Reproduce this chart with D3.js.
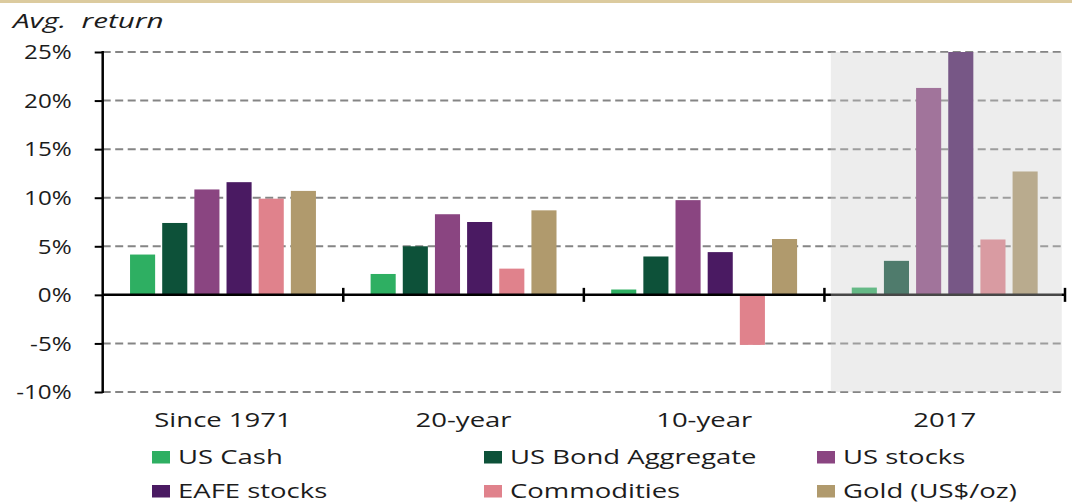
<!DOCTYPE html>
<html>
<head>
<meta charset="utf-8">
<script src="https://cdn.jsdelivr.net/npm/d3@7"></script>
<style>
  html, body { margin: 0; padding: 0; background: #fff; }
  svg { display: block; }
  text { font-family: "Open Sans", sans-serif; fill: #1c1c1c; }
</style>
</head>
<body>
<svg id="chart" width="1072" height="503"></svg>
<script>
// Average annual returns by asset class and period (%)
const periods = ["Since 1971", "20-year", "10-year", "2017"];
const seriesNames = ["US Cash", "US Bond Aggregate", "US stocks", "EAFE stocks", "Commodities", "Gold (US$/oz)"];
const seriesColors = ["#2eaf62", "#0d5139", "#8a4581", "#4a1a62", "#e0828c", "#b09a6d"];
const usCash      = [4.15, 2.15, 0.55, 0.75];
const usBonds     = [7.4, 5.0, 3.95, 3.5];
const usStocks    = [10.85, 8.3, 9.75, 21.3];
const eafeStocks  = [11.6, 7.5, 4.4, 25.0];
const commodities = [9.9, 2.7, -5.15, 5.7];
const gold        = [10.7, 8.7, 5.75, 12.7];
const yTicks = [-10, -5, 0, 5, 10, 15, 20, 25];
const highlightPeriod = "2017";

const seriesValues = [usCash, usBonds, usStocks, eafeStocks, commodities, gold];

const svg = d3.select("#chart");

// widen glyphs horizontally by a factor
function widen(sel, factor) {
  sel.each(function () {
    const w = this.getComputedTextLength();
    this.setAttribute("textLength", w * factor);
    this.setAttribute("lengthAdjust", "spacingAndGlyphs");
  });
}

// top rule
svg.append("rect").attr("x", 0).attr("y", 0).attr("width", 1072).attr("height", 3)
  .attr("fill", "#dccb9f");

const plotLeft = 102.7, plotRight = 1065, plotTop = 52, plotBottom = 392;

const x0 = d3.scaleBand().domain(periods).range([plotLeft, plotRight]).paddingInner(0).paddingOuter(0);
const x1 = d3.scaleBand().domain(seriesNames).range([0, x0.bandwidth()])
  .paddingInner(0.22).paddingOuter(0.85);
const y = d3.scaleLinear().domain([-10, 25]).range([plotBottom, plotTop]);

// dashed gridlines
svg.append("g").selectAll("line")
  .data(yTicks.filter(d => d !== 0))
  .join("line")
  .attr("x1", plotLeft).attr("x2", 1063)
  .attr("y1", d => y(d)).attr("y2", d => y(d))
  .attr("stroke", "#858585").attr("stroke-width", 2)
  .attr("stroke-dasharray", "8,4.5");

// bars
const groups = svg.append("g").selectAll("g")
  .data(periods)
  .join("g")
  .attr("transform", d => `translate(${x0(d)},0)`);

groups.selectAll("rect")
  .data((p, pi) => seriesNames.map((s, si) => ({ s, v: seriesValues[si][pi], c: seriesColors[si] })))
  .join("rect")
  .attr("x", d => x1(d.s))
  .attr("width", x1.bandwidth())
  .attr("y", d => y(Math.max(0, d.v)))
  .attr("height", d => Math.abs(y(d.v) - y(0)))
  .attr("fill", d => d.c);

// zero line with period separators
svg.append("line")
  .attr("x1", plotLeft).attr("x2", plotRight)
  .attr("y1", y(0)).attr("y2", y(0))
  .attr("stroke", "#000").attr("stroke-width", 2.5);

svg.append("g").selectAll("line")
  .data(periods)
  .join("line")
  .attr("x1", d => x0(d) + x0.bandwidth()).attr("x2", d => x0(d) + x0.bandwidth())
  .attr("y1", y(0) - 7).attr("y2", y(0) + 7)
  .attr("stroke", "#000").attr("stroke-width", 2.5);

// highlighted period shading
svg.append("rect")
  .attr("x", x0(highlightPeriod) + 6.4)
  .attr("width", x0.bandwidth() - 9.6)
  .attr("y", plotTop).attr("height", plotBottom - plotTop)
  .attr("fill", "#cccccc").attr("opacity", 0.35);

// y axis
const yAxis = svg.append("g")
  .attr("transform", `translate(${plotLeft},0)`)
  .call(d3.axisLeft(y).tickValues(yTicks).tickSize(8).tickPadding(23)
    .tickFormat(d => d + "%"));
yAxis.select(".domain").remove();
yAxis.selectAll(".tick line").attr("stroke", "#000").attr("stroke-width", 2);
yAxis.append("line").attr("x1", 0).attr("x2", 0).attr("y1", plotTop - 1).attr("y2", plotBottom + 1)
  .attr("stroke", "#000").attr("stroke-width", 2.5);
yAxis.selectAll(".tick text")
  .attr("font-family", "Open Sans, sans-serif")
  .attr("font-size", 20.5).attr("fill", "#1c1c1c")
  .attr("dy", "0.33em");
widen(yAxis.selectAll(".tick text"), 1.18);

// period labels
const xAxis = svg.append("g")
  .attr("transform", `translate(0,${plotBottom})`)
  .call(d3.axisBottom(x0).tickSize(0).tickPadding(0));
xAxis.select(".domain").remove();
xAxis.selectAll(".tick text")
  .attr("font-family", "Open Sans, sans-serif")
  .attr("font-size", 20.5).attr("fill", "#1c1c1c")
  .attr("dy", null).attr("y", 35);
widen(xAxis.selectAll(".tick text"), 1.34);

// y title
const title = svg.append("text")
  .attr("x", 13).attr("y", 28)
  .attr("font-size", 19.5).attr("font-style", "italic")
  .style("white-space", "pre")
  .text("Avg.  return");
widen(title, 1.52);

// legend
const legendX = [152, 484, 817];
const legendY = [451, 485];
const legend = svg.append("g").selectAll("g")
  .data(seriesNames)
  .join("g")
  .attr("transform", (d, i) => `translate(${legendX[i % 3]},${legendY[Math.floor(i / 3)]})`);
legend.append("rect")
  .attr("width", 18).attr("height", 12.5)
  .attr("fill", (d, i) => seriesColors[i]);
const legendText = legend.append("text")
  .attr("x", 26).attr("y", 12.5)
  .attr("font-size", 20.5)
  .text(d => d);
widen(legendText, 1.34);
</script>
</body>
</html>
